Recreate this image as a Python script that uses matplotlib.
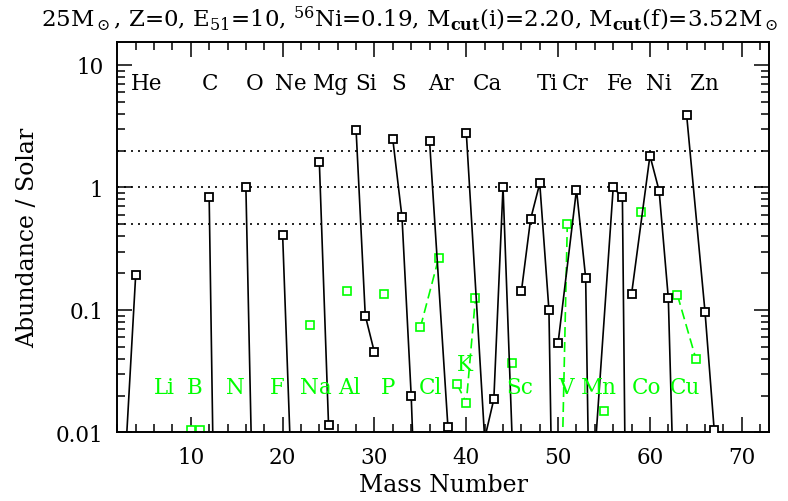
import numpy as np
import matplotlib
matplotlib.use('Agg')
import matplotlib.pyplot as plt
from matplotlib.ticker import FixedLocator, NullFormatter, LogLocator

plt.rcParams['font.family'] = 'DejaVu Serif'
plt.rcParams['mathtext.fontset'] = 'dejavuserif'

# isotopes of each element, joined by a line (mass number, abundance / solar)
black_groups = [
    ([3, 4], [0.009, 0.194]),                                   # He
    ([12, 13], [0.83, 1.0e-5]),                                 # C
    ([16, 17], [1.0, 3.0e-4]),                                  # O
    ([20, 21], [0.41, 0.0035]),                                 # Ne
    ([24, 25], [1.6, 0.0115]),                                  # Mg
    ([28, 29, 30], [2.95, 0.090, 0.045]),                       # Si
    ([32, 33, 34, 36], [2.47, 0.57, 0.020, 1.5e-6]),            # S
    ([36, 38], [2.40, 0.0111]),                                 # Ar
    ([40, 42, 43, 44, 46], [2.81, 0.0089, 0.0187, 1.01, 7.4e-5]),  # Ca
    ([46, 47, 48, 49, 50], [0.142, 0.55, 1.08, 0.10, 3.0e-6]),  # Ti
    ([50, 52, 53, 54], [0.054, 0.96, 0.183, 2.6e-6]),           # Cr
    ([54, 56, 57, 58], [0.0067, 1.0, 0.83, 4.0e-8]),            # Fe
    ([58, 60, 61, 62, 64], [0.135, 1.82, 0.94, 0.125, 5.0e-7]), # Ni
    ([64, 66, 67], [3.87, 0.096, 0.0104]),                      # Zn
]

green_groups = [
    ([10, 11], [0.0105, 0.0105]),                # B
    ([23], [0.076]),                             # Na
    ([27], [0.144]),                             # Al
    ([31], [0.134]),                             # P
    ([35, 37], [0.072, 0.267]),                  # Cl
    ([39, 40, 41], [0.0247, 0.0175, 0.126]),     # K
    ([45], [0.037]),                             # Sc
    ([50, 51], [1.8e-4, 0.50]),                  # V
    ([55], [0.015]),                             # Mn
    ([59], [0.63]),                              # Co
    ([63, 65], [0.132, 0.040]),                  # Cu
]

even_names = ['He', 'C', 'O', 'Ne', 'Mg', 'Si', 'S', 'Ar', 'Ca', 'Ti', 'Cr', 'Fe', 'Ni', 'Zn']
even_xpos = [5.2, 12.1, 17.0, 20.9, 25.3, 29.1, 32.6, 37.3, 42.3, 48.8, 51.9, 56.7, 61.0, 65.9]
odd_names = ['Li', 'B', 'N', 'F', 'Na', 'Al', 'P', 'Cl', 'K', 'Sc', 'V', 'Mn', 'Co', 'Cu']
odd_xpos = [7.1, 10.4, 14.9, 19.4, 23.6, 27.3, 31.5, 36.1, 39.8, 45.8, 50.9, 54.4, 59.6, 63.8]

GREEN = '#00ff00'

fig = plt.figure(figsize=(7.88, 5.02), dpi=100)
ax = fig.add_axes([0.1489, 0.1365, 0.8274, 0.7785])
ax.set_yscale('log')
ax.set_xlim(2, 73)
ax.set_ylim(0.01, 15.5)

for ref in [0.5, 1.0, 2.0]:
    ax.axhline(ref, color='black', lw=1.2, ls=(0, (1.2, 3.0)), zorder=1)

for xs, ys in black_groups:
    ax.plot(xs, ys, color='black', lw=1.2, marker='s', ms=6.4, mfc='white',
            mec='black', mew=1.3, zorder=3)

for xs, ys in green_groups:
    ax.plot(xs, ys, color=GREEN, lw=1.2, ls=(0, (6, 3)), marker='s', ms=6.0,
            mfc='white', mec=GREEN, mew=1.2, zorder=2)

for name, xp in zip(even_names, even_xpos):
    ax.text(xp, 7.1, name, ha='center', va='center', fontsize=15.5, color='black')
for name, xp in zip(odd_names, odd_xpos):
    yp = 0.036 if name == 'K' else 0.0234
    ax.text(xp, yp, name, ha='center', va='center', fontsize=15.5, color=GREEN)

# axes frame and ticks
ax.xaxis.set_major_locator(FixedLocator(np.arange(10, 80, 10)))
ax.xaxis.set_minor_locator(FixedLocator(np.arange(2, 74, 2)))
ax.yaxis.set_major_locator(FixedLocator([0.01, 0.1, 1, 10]))
ax.yaxis.set_minor_locator(LogLocator(base=10, subs=np.arange(2, 10)))
ax.yaxis.set_minor_formatter(NullFormatter())
ax.set_yticklabels(['0.01', '0.1', '1', '10'])
ax.tick_params(which='both', direction='in', top=True, right=True, width=1.1,
               labelsize=15.5, pad=10)
ax.tick_params(which='major', length=11)
ax.tick_params(which='minor', length=5.5)
for sp in ax.spines.values():
    sp.set_linewidth(1.4)

ax.set_xlabel('Mass Number', fontsize=17, labelpad=3)
ax.set_ylabel('Abundance / Solar', fontsize=17, labelpad=12)

fig.text(0.52, 0.962,
         r'25M$_\odot$, Z=0, E$_{51}$=10, $^{56}$Ni=0.19, M$_{\bf cut}$(i)=2.20, '
         r'M$_{\bf cut}$(f)=3.52M$_\odot$',
         ha='center', va='center', fontsize=16.5)

fig.savefig('out.png', dpi=100)
